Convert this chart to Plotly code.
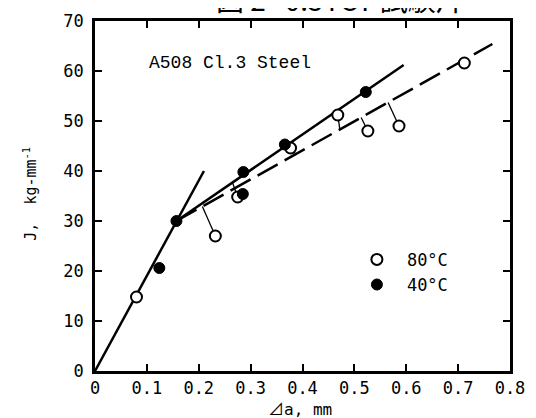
import numpy as np
import plotly.graph_objects as go

# ---- data ----
open_x = [0.08, 0.232, 0.275, 0.377, 0.468, 0.526, 0.586, 0.712]
open_y = [14.8, 27.0, 34.8, 44.6, 51.2, 48.0, 49.0, 61.6]
filled_x = [0.124, 0.157, 0.286, 0.285, 0.366, 0.522]
filled_y = [20.6, 30.0, 39.8, 35.4, 45.3, 55.8]

blunt_x = [0.0, 0.21]
blunt_y = [0.0, 40.0]
r40_x = [0.157, 0.595]
r40_y = [30.0, 61.2]
r80_x = [0.157, 0.766]
r80_y = [30.0, 65.4]

# tie lines: (open point index, line name, Δa on that line)
ties = [(1, "r80", 0.207), (2, "r40", 0.265), (3, "r80", 0.387),
        (4, "r80", 0.472), (5, "r80", 0.513), (6, "r80", 0.565)]

x_ticks = [0, 0.1, 0.2, 0.3, 0.4, 0.5, 0.6, 0.7, 0.8]
y_ticks = [0, 10, 20, 30, 40, 50, 60, 70]

lines = {"r40": (r40_x, r40_y), "r80": (r80_x, r80_y)}

MONO = "DejaVu Sans Mono, Liberation Mono, monospace"

fig = go.Figure()
fig.add_trace(go.Scatter(x=blunt_x, y=blunt_y, mode="lines",
                         line=dict(color="black", width=2.5), showlegend=False))
fig.add_trace(go.Scatter(x=r40_x, y=r40_y, mode="lines",
                         line=dict(color="black", width=2.5), showlegend=False))
fig.add_trace(go.Scatter(x=r80_x, y=r80_y, mode="lines",
                         line=dict(color="black", width=2.5, dash="23px,8px"),
                         showlegend=False))
for idx, ln, xa in ties:
    lx, ly = lines[ln]
    ya = float(np.interp(xa, lx, ly))
    fig.add_trace(go.Scatter(x=[open_x[idx], xa], y=[open_y[idx], ya], mode="lines",
                             line=dict(color="black", width=1.3), showlegend=False))

fig.add_trace(go.Scatter(x=open_x, y=open_y, mode="markers", name="80°C",
                         marker=dict(symbol="circle", size=11, color="white",
                                     line=dict(color="black", width=2))))
fig.add_trace(go.Scatter(x=filled_x, y=filled_y, mode="markers", name="40°C",
                         marker=dict(symbol="circle", size=11, color="black",
                                     line=dict(color="black", width=1))))

axis_common = dict(showline=True, linewidth=2.5, linecolor="black", mirror="ticks",
                   ticks="inside", ticklen=7, tickwidth=2, tickcolor="black",
                   showgrid=False, zeroline=False, automargin=False,
                   tickfont=dict(family=MONO, size=17, color="black"))

fig.update_xaxes(range=[0, 0.8], tickvals=x_ticks,
                 ticktext=["0" if v == 0 else f"{v:.1f}" for v in x_ticks],
                 **axis_common)
fig.update_yaxes(range=[0, 70], tickvals=y_ticks, ticklabelstandoff=5, **axis_common)

fig.update_layout(
    width=528, height=410,
    margin=dict(l=87, r=26, t=13, b=47),
    paper_bgcolor="white", plot_bgcolor="white",
    legend=dict(x=0.607, y=0.369, xanchor="left", yanchor="top",
                bgcolor="rgba(0,0,0,0)", itemwidth=50,
                font=dict(family=MONO, size=17, color="black")),
    annotations=[
        dict(text="A508 Cl.3 Steel", x=0.125, y=0.88, xref="paper", yref="paper",
             xanchor="left", yanchor="middle", showarrow=False,
             font=dict(family="Liberation Mono, Courier New", size=18, color="black")),
        dict(text="⊿a, mm", x=0.494, y=-0.111, xref="paper", yref="paper",
             xanchor="center", yanchor="middle", showarrow=False,
             font=dict(family=MONO + ", Noto Sans CJK JP", size=16, color="black")),
        dict(text="J,  kg-mm<sup>-1</sup>", x=-0.157, y=0.506, xref="paper", yref="paper",
             xanchor="center", yanchor="middle", showarrow=False, textangle=-90,
             font=dict(family=MONO, size=15, color="black")),
        dict(text="図 2   0.5TCT 試験片", x=0.59, y=1.0, xref="paper", yref="paper",
             xanchor="center", yanchor="bottom", showarrow=False,
             font=dict(family="Noto Sans CJK JP", size=28, color="black")),
    ],
)

fig.write_html("out.html")
